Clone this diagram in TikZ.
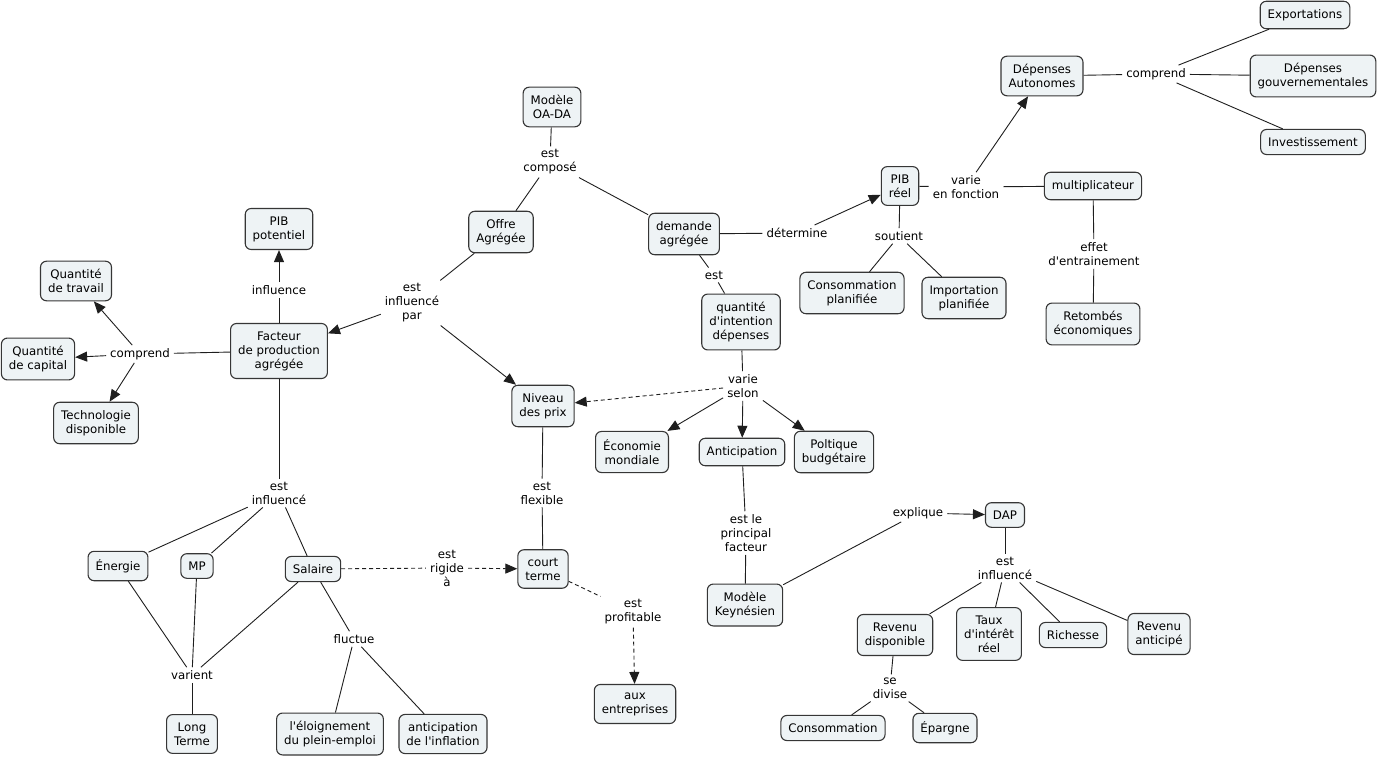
\documentclass[tikz,border=0pt]{standalone}
\usepackage{fontspec}
\newfontfamily\cmapfamily{DejaVu Sans}
\usetikzlibrary{arrows.meta, positioning}
\definecolor{concept-fill}{HTML}{EEF3F5}
\definecolor{concept-border}{HTML}{363636}
\definecolor{link-line}{HTML}{1E1E1E}
\newcommand\cmapfont{\cmapfamily\fontsize{11.8}{14}\selectfont}
\tikzset{
  cmap-concept/.style={
    rectangle, rounded corners=6pt, draw=concept-border, fill=concept-fill,
    line width=1.1pt, align=center, font=\cmapfont,
    inner xsep=7.5pt, inner ysep=8pt
  },
  cmap-link/.style={
    align=center, font=\cmapfont, inner xsep=4pt, inner ysep=3pt
  },
  cmap-line/.style={draw=link-line, line width=0.9pt},
  cmap-arrow/.style={cmap-line, -{Triangle[length=12pt, width=10pt]}},
  cmap-dash/.style={cmap-line, dash pattern=on 4pt off 3pt},
  cmap-dash-arrow/.style={cmap-dash, -{Triangle[length=12pt, width=10pt]}}
}

\begin{document}
\begin{tikzpicture}[x=1pt, y=-1pt]
  \useasboundingbox (0,0) rectangle (1379,757);

  % Concepts
  \node[cmap-concept] (oada)        at (552,107)  {Modèle\\OA-DA};
  \node[cmap-concept] (offre)       at (501,232)  {Offre\\Agrégée};
  \node[cmap-concept] (demande)     at (684,234)  {demande\\agrégée};
  \node[cmap-concept] (pibpot)      at (279,229)  {PIB\\potentiel};
  \node[cmap-concept] (qtravail)    at (76,281)   {Quantité\\de travail};
  \node[cmap-concept] (qcapital)    at (38,359)   {Quantité\\de capital};
  \node[cmap-concept] (techno)      at (96,423)   {Technologie\\disponible};
  \node[cmap-concept] (facteur)     at (279,351)  {Facteur\\de production\\agrégée};
  \node[cmap-concept] (prix)        at (543,406)  {Niveau\\des prix};
  \node[cmap-concept] (intention)   at (741,322)  {quantité\\d'intention\\dépenses};
  \node[cmap-concept] (pibreel)     at (900,186)  {PIB\\réel};
  \node[cmap-concept] (depauto)     at (1042,76)  {Dépenses\\Autonomes};
  \node[cmap-concept] (export)      at (1305,15)  {Exportations};
  \node[cmap-concept] (depgouv)     at (1313,76)  {Dépenses\\gouvernementales};
  \node[cmap-concept] (invest)      at (1313,142) {Investissement};
  \node[cmap-concept] (multi)       at (1093,186) {multiplicateur};
  \node[cmap-concept] (retombes)    at (1093,324) {Retombés\\économiques};
  \node[cmap-concept] (consplan)    at (852,293)  {Consommation\\planifiée};
  \node[cmap-concept] (impplan)     at (964,298)  {Importation\\planifiée};
  \node[cmap-concept] (ecomond)     at (632,452)  {Économie\\mondiale};
  \node[cmap-concept] (anticip)     at (742,452)  {Anticipation};
  \node[cmap-concept] (budget)      at (834,452)  {Poltique\\budgétaire};
  \node[cmap-concept] (keynes)      at (745,605)  {Modèle\\Keynésien};
  \node[cmap-concept] (dap)         at (1005,515) {DAP};
  \node[cmap-concept] (revdisp)     at (895,635)  {Revenu\\disponible};
  \node[cmap-concept] (taux)        at (989,634)  {Taux\\d'intérêt\\réel};
  \node[cmap-concept] (richesse)    at (1073,635) {Richesse};
  \node[cmap-concept] (revanti)     at (1159,634) {Revenu\\anticipé};
  \node[cmap-concept] (conso)       at (833,728)  {Consommation};
  \node[cmap-concept] (epargne)     at (945,728)  {Épargne};
  \node[cmap-concept] (court)       at (543,569)  {court\\terme};
  \node[cmap-concept] (entreprises) at (635,704)  {aux\\entreprises};
  \node[cmap-concept] (energie)     at (118,566)  {Énergie};
  \node[cmap-concept] (mp)          at (197,566)  {MP};
  \node[cmap-concept] (salaire)     at (313,569)  {Salaire};
  \node[cmap-concept] (longterme)   at (192,734)  {Long\\Terme};
  \node[cmap-concept] (eloign)      at (330,734)  {l'éloignement\\du plein-emploi};
  \node[cmap-concept] (inflation)   at (443,734)  {anticipation\\de l'inflation};

  % Linking phrases
  \node[cmap-link] (l-compose)   at (550,162)  {est\\composé};
  \node[cmap-link] (l-infpar)    at (412,303)  {est\\influencé\\par};
  \node[cmap-link] (l-influence) at (279,290)  {influence};
  \node[cmap-link] (l-comprend)  at (140,354)  {comprend};
  \node[cmap-link] (l-estinf)    at (279,493)  {est\\influencé};
  \node[cmap-link] (l-varient)   at (192,675)  {varient};
  \node[cmap-link] (l-fluctue)   at (354,639)  {fluctue};
  \node[cmap-link] (l-rigide)    at (447,568)  {est\\rigide\\à};
  \node[cmap-link] (l-flexible)  at (542,493)  {est\\flexible};
  \node[cmap-link] (l-profit)    at (633,612)  {est\\profitable};
  \node[cmap-link] (l-determine) at (797,233)  {détermine};
  \node[cmap-link] (l-est)       at (714,275)  {est};
  \node[cmap-link] (l-selon)     at (743,386)  {varie\\selon};
  \node[cmap-link] (l-facteur)   at (746,533)  {est le\\principal\\facteur};
  \node[cmap-link] (l-explique)  at (918,513)  {explique};
  \node[cmap-link] (l-dapinf)    at (1005,568) {est\\influencé};
  \node[cmap-link] (l-divise)    at (890,688)  {se\\divise};
  \node[cmap-link] (l-soutient)  at (899,236)  {soutient};
  \node[cmap-link] (l-fonction)  at (966,187)  {varie\\en fonction};
  \node[cmap-link] (l-comprend2) at (1156,74)  {comprend};
  \node[cmap-link] (l-effet)     at (1094,254) {effet\\d'entrainement};

  % Offre agregee side
  \draw[cmap-line] (oada) -- (l-compose);
  \draw[cmap-line] (l-compose) -- (offre);
  \draw[cmap-line] (l-compose) -- (demande);
  \draw[cmap-line] (offre) -- (l-infpar);
  \draw[cmap-arrow] (l-infpar) -- (facteur);
  \draw[cmap-arrow] (l-infpar) -- (prix);
  \draw[cmap-line] (facteur) -- (l-influence);
  \draw[cmap-arrow] (l-influence) -- (pibpot);
  \draw[cmap-line] (facteur) -- (l-comprend);
  \foreach \t in {qtravail, qcapital, techno}
    \draw[cmap-arrow] (l-comprend) -- (\t);
  \draw[cmap-line] (facteur) -- (l-estinf);
  \foreach \t in {energie, mp, salaire} {
    \draw[cmap-line] (l-estinf) -- (\t);
    \draw[cmap-line] (\t) -- (l-varient);
  }
  \draw[cmap-line] (l-varient) -- (longterme);
  \draw[cmap-line] (salaire) -- (l-fluctue);
  \draw[cmap-line] (l-fluctue) -- (eloign);
  \draw[cmap-line] (l-fluctue) -- (inflation);
  \draw[cmap-dash] (salaire) -- (l-rigide);
  \draw[cmap-dash-arrow] (l-rigide) -- (court);
  \draw[cmap-line] (prix) -- (l-flexible);
  \draw[cmap-line] (l-flexible) -- (court);
  \draw[cmap-dash] (court) -- (l-profit);
  \draw[cmap-dash-arrow] (l-profit) -- (entreprises);

  % Demande agregee side
  \draw[cmap-line] (demande) -- (l-determine);
  \draw[cmap-arrow] (l-determine) -- (pibreel);
  \draw[cmap-line] (demande) -- (l-est);
  \draw[cmap-line] (l-est) -- (intention);
  \draw[cmap-line] (intention) -- (l-selon);
  \foreach \t in {ecomond, anticip, budget}
    \draw[cmap-arrow] (l-selon) -- (\t);
  \draw[cmap-dash-arrow] (l-selon) -- (prix);
  \draw[cmap-line] (anticip) -- (l-facteur);
  \draw[cmap-line] (l-facteur) -- (keynes);
  \draw[cmap-line] (keynes) -- (l-explique);
  \draw[cmap-arrow] (l-explique) -- (dap);
  \draw[cmap-line] (dap) -- (l-dapinf);
  \foreach \t in {revdisp, taux, richesse, revanti}
    \draw[cmap-line] (l-dapinf) -- (\t);
  \draw[cmap-line] (revdisp) -- (l-divise);
  \foreach \t in {conso, epargne}
    \draw[cmap-line] (l-divise) -- (\t);

  % PIB reel
  \draw[cmap-line] (pibreel) -- (l-soutient);
  \foreach \t in {consplan, impplan}
    \draw[cmap-line] (l-soutient) -- (\t);
  \draw[cmap-line] (pibreel) -- (l-fonction);
  \draw[cmap-arrow] (l-fonction) -- (depauto);
  \draw[cmap-line] (l-fonction) -- (multi);
  \draw[cmap-line] (multi) -- (l-effet);
  \draw[cmap-line] (l-effet) -- (retombes);
  \draw[cmap-line] (depauto) -- (l-comprend2);
  \foreach \t in {export, depgouv, invest}
    \draw[cmap-line] (l-comprend2) -- (\t);
\end{tikzpicture}
\end{document}
